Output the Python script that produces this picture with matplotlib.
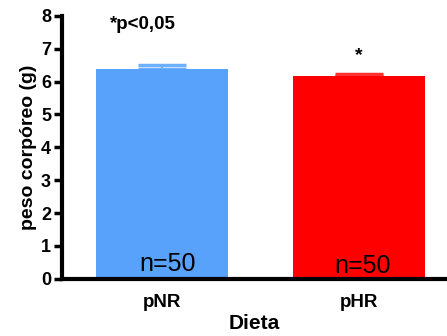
import matplotlib
matplotlib.use("Agg")
import matplotlib.pyplot as plt

# dados
grupos = ["pNR", "pHR"]
media = [6.38, 6.17]
erro = [0.12, 0.07]
n_txt = ["n=50", "n=50"]
cores = ["#58A2FC", "#FF0000"]
cores_erro = ["#6FB0FD", "#FF3030"]

plt.rcParams["font.family"] = ["Liberation Sans", "DejaVu Sans"]

fig = plt.figure(figsize=(4.47, 3.36), dpi=100)
ax = fig.add_axes([0.139, 0.170, 0.861, 0.783])

x = list(range(len(grupos)))
ax.bar(x, media, width=0.67, color=cores, zorder=2)
for i in x:
    ax.errorbar(i, media[i], yerr=[[0], [erro[i]]], fmt="none",
                ecolor=cores_erro[i], elinewidth=1.5, capsize=17,
                capthick=2.5, zorder=1)

ax.text(0.03, 0.24, n_txt[0], fontsize=18, ha="center", va="baseline")
ax.text(1.02, 0.18, n_txt[1], fontsize=18, ha="center", va="baseline")
ax.text(-0.10, 7.75, "*p<0,05", fontsize=13.5, fontweight="bold",
        ha="center", va="center")
ax.text(1.0, 6.8, "*", fontsize=14, fontweight="bold",
        ha="center", va="center")

ax.set_xlim(-0.508, 1.447)
ax.set_ylim(0, 8)
ax.set_xticks(x)
ax.set_xticklabels(grupos, fontsize=13.5, fontweight="bold")
ax.set_yticks(range(0, 9))
ax.set_yticklabels([str(v) for v in range(0, 9)], fontsize=13,
                   fontweight="bold")
ax.tick_params(axis="x", length=0, pad=11)
ax.tick_params(axis="y", length=6, width=2.5, pad=2)

for s in ["top", "right"]:
    ax.spines[s].set_visible(False)
for s in ["left", "bottom"]:
    ax.spines[s].set_linewidth(3)

ax.set_ylabel("peso corpóreo (g)", fontsize=14, fontweight="bold", labelpad=3)
ax.set_xlabel("Dieta", fontsize=15, fontweight="bold", labelpad=2)

fig.savefig("out.png", dpi=100)
